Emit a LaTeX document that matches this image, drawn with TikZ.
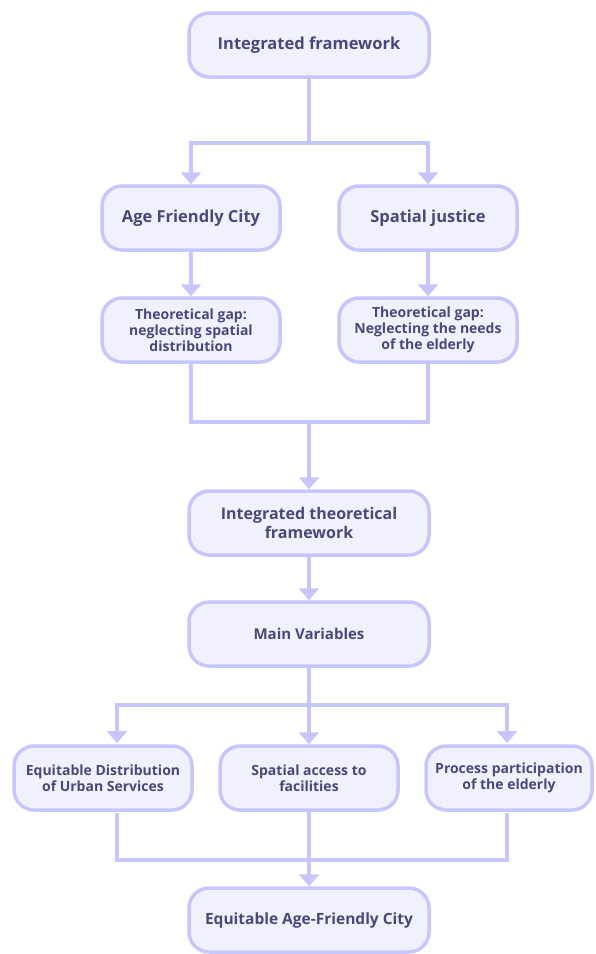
\documentclass[tikz,border=0pt]{standalone}
\usepackage{fontspec}
\setmainfont{Open Sans}
\usetikzlibrary{arrows.meta}
\definecolor{boxline}{RGB}{198,198,252}
\definecolor{boxfill}{RGB}{241,241,253}
\definecolor{boxtext}{RGB}{72,72,122}
\begin{document}
\begin{tikzpicture}[x=1pt, y=-1pt,
    box/.style={draw=boxline, fill=boxfill, line width=3.5pt, rounded corners=20pt,
        text=boxtext, font=\bfseries\fontsize{16.5}{20}\selectfont, align=center,
        minimum width=178pt, minimum height=64pt, inner sep=2pt},
    bigbox/.style={box, minimum width=240pt},
    smallbox/.style={box, font=\bfseries\fontsize{14}{16}\selectfont},
    link/.style={draw=boxline, line width=3.5pt},
    arr/.style={link, -{Triangle[width=20pt,length=12pt]}}]
    \useasboundingbox (0,0) rectangle (595,954);

    % Draw boxes
    \node[bigbox] (frame) at (309,45) {Integrated framework};
    \node[box] (afc) at (191,218) {Age Friendly City};
    \node[box] (sj) at (428,218) {Spatial justice};
    \node[smallbox] (gapl) at (191,330) {Theoretical gap:\\neglecting spatial\\distribution};
    \node[smallbox] (gapr) at (428,330) {Theoretical gap:\\Neglecting the needs\\of the elderly};
    \node[bigbox, font=\bfseries\fontsize{16}{19}\selectfont] (itf) at (309,523) {Integrated theoretical\\framework};
    \node[bigbox, font=\bfseries\fontsize{15}{18}\selectfont] (vars) at (309,634) {Main Variables};
    \node[smallbox] (eds) at (103,778) {Equitable Distribution\\of Urban Services};
    \node[smallbox] (sa) at (309,778) {Spatial access to\\facilities};
    \node[smallbox, minimum width=166pt] (pp) at (509,778) {Process participation\\of the elderly};
    \node[bigbox, font=\bfseries\fontsize{15.5}{18}\selectfont] (eafc) at (309,920) {Equitable Age-Friendly City};

    % Junction points
    \coordinate (j1) at (309,143);
    \coordinate (j2) at (309,422);
    \coordinate (j3) at (309,705);
    \coordinate (j4) at (309,860);
    \coordinate (edsin) at (117,743);
    \coordinate (edsout) at (117,813);
    \coordinate (ppin) at (507,743);
    \coordinate (ppout) at (507,813);

    % Draw top branch
    \draw[link] (frame) -- (j1);
    \draw[arr] (j1) -| (afc);
    \draw[arr] (j1) -| (sj);
    \draw[arr] (afc) -- (gapl);
    \draw[arr] (sj) -- (gapr);

    % Draw merge into the theoretical framework
    \draw[link] (gapl) |- (j2);
    \draw[link] (gapr) |- (j2);
    \draw[arr] (j2) -- (itf);
    \draw[arr] (itf) -- (vars);

    % Draw variables branch
    \draw[link] (vars) -- (j3);
    \draw[arr] (j3) -| (edsin);
    \draw[arr] (j3) -- (sa);
    \draw[arr] (j3) -| (ppin);

    % Draw merge into the result
    \draw[link] (edsout) |- (j4);
    \draw[link] (ppout) |- (j4);
    \draw[link] (sa) -- (j4);
    \draw[arr] (j4) -- (eafc);
\end{tikzpicture}
\end{document}
